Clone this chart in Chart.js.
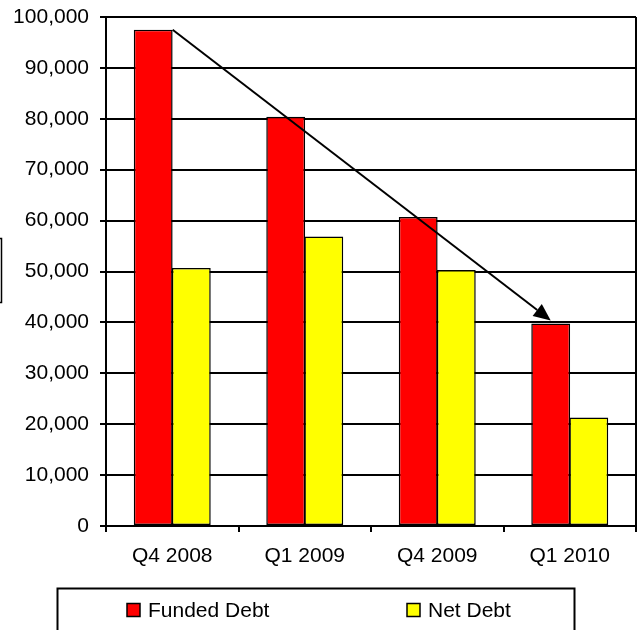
<!DOCTYPE html>
<html>
<head>
<meta charset="utf-8">
<style>
  html, body { margin: 0; padding: 0; background: #ffffff; }
  #wrap { width: 641px; height: 630px; position: relative; overflow: hidden; }
  canvas { display: block; }
</style>
<script src="https://cdn.jsdelivr.net/npm/chart.js@4.4.1/dist/chart.umd.min.js"></script>
</head>
<body>
<div id="wrap"><canvas id="c" width="641" height="630"></canvas></div>
<script>
// ---- data ----
const categories = ['Q4 2008', 'Q1 2009', 'Q4 2009', 'Q1 2010'];
const fundedDebt = [97500, 80400, 60700, 39800];
const netDebt = [50700, 56900, 50300, 21300];
const seriesNames = ['Funded Debt', 'Net Debt'];
const seriesColors = ['#ff0000', '#ffff00'];
const yMin = 0;
const yMax = 100000;
const yStep = 10000;

const FONT = '"Liberation Sans", Arial, sans-serif';

// Draws plot frame, arrow, side bracket and the boxed legend
const decorPlugin = {
  id: 'decor',
  afterDatasetsDraw(chart) {
    const ctx = chart.ctx;
    const ca = chart.chartArea;
    ctx.save();
    // right frame line
    ctx.strokeStyle = '#000';
    ctx.lineWidth = 2;
    ctx.beginPath();
    ctx.moveTo(ca.right, ca.top);
    ctx.lineTo(ca.right, ca.bottom);
    ctx.stroke();

    // arrow from top-right of first red bar to top of last red bar
    const meta = chart.getDatasetMeta(0);
    const b0 = meta.data[0];
    const b3 = meta.data[meta.data.length - 1];
    const x0 = b0.x + b0.width / 2, y0 = b0.y;
    const x1 = b3.x, y1 = b3.y - 3;
    ctx.lineWidth = 2;
    ctx.beginPath();
    ctx.moveTo(x0, y0);
    const ang = Math.atan2(y1 - y0, x1 - x0);
    const headLen = 17, headW = 7.5;
    const bx = x1 - headLen * Math.cos(ang), by = y1 - headLen * Math.sin(ang);
    ctx.lineTo(bx, by);
    ctx.stroke();
    ctx.fillStyle = '#000';
    ctx.beginPath();
    ctx.moveTo(x1, y1);
    ctx.lineTo(bx + headW * Math.sin(ang), by - headW * Math.cos(ang));
    ctx.lineTo(bx - headW * Math.sin(ang), by + headW * Math.cos(ang));
    ctx.closePath();
    ctx.fill();

    // clipped box at the left edge (axis title box cut off)
    ctx.lineWidth = 1.5;
    ctx.strokeRect(-6, 238.5, 7.5, 64);

    // legend box
    ctx.lineWidth = 2;
    ctx.strokeRect(57.5, 588.5, 517, 80);
    const items = [
      { x: 127, label: chart.data.datasets[0].label, color: chart.data.datasets[0].backgroundColor },
      { x: 407, label: chart.data.datasets[1].label, color: chart.data.datasets[1].backgroundColor }
    ];
    ctx.font = '21px ' + FONT;
    ctx.textBaseline = 'middle';
    ctx.textAlign = 'left';
    items.forEach(it => {
      ctx.fillStyle = it.color;
      ctx.fillRect(it.x, 603.5, 13, 13);
      ctx.lineWidth = 1.5;
      ctx.strokeStyle = '#000';
      ctx.strokeRect(it.x, 603.5, 13, 13);
      ctx.fillStyle = '#000';
      ctx.fillText(it.label, it.x + 21, 611);
    });
    ctx.restore();
  }
};

new Chart(document.getElementById('c'), {
  type: 'bar',
  data: {
    labels: categories,
    datasets: [
      { label: seriesNames[0], data: fundedDebt, backgroundColor: seriesColors[0],
        borderColor: '#000', borderWidth: 1.5, borderSkipped: false },
      { label: seriesNames[1], data: netDebt, backgroundColor: seriesColors[1],
        borderColor: '#000', borderWidth: 1.5, borderSkipped: false }
    ]
  },
  options: {
    responsive: false,
    animation: false,
    devicePixelRatio: 1,
    categoryPercentage: 0.575,
    barPercentage: 1.02,
    layout: { padding: { top: 17, right: 5, left: 0, bottom: 0 } },
    plugins: { legend: { display: false }, tooltip: { enabled: false } },
    scales: {
      x: {
        afterFit(s) { s.height = 104; s.paddingLeft = 0; s.paddingRight = 0; },
        grid: { drawOnChartArea: false, drawTicks: true, tickLength: 6, color: '#000', lineWidth: 2, offset: true },
        border: { display: true, color: '#000', width: 2 },
        ticks: { color: '#000', font: { family: FONT, size: 21 }, padding: 12, maxRotation: 0 }
      },
      y: {
        min: yMin, max: yMax,
        afterFit(s) { s.width = 106; s.paddingTop = 0; s.paddingBottom = 0; },
        grid: { color: '#000', lineWidth: 2, drawTicks: true, tickLength: 6 },
        border: { display: true, color: '#000', width: 2 },
        ticks: {
          stepSize: yStep, color: '#000', padding: 11,
          font: { family: FONT, size: 21 },
          callback: v => v.toLocaleString('en-US')
        }
      }
    }
  },
  plugins: [decorPlugin]
});
</script>
</body>
</html>
